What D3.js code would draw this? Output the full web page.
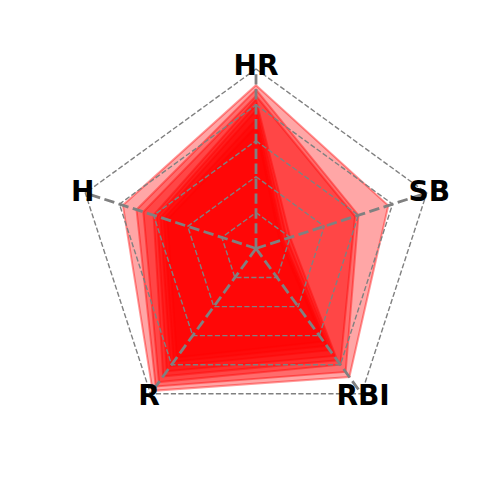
<!DOCTYPE html>
<html><head><meta charset="utf-8">
<script src="https://cdn.jsdelivr.net/npm/d3@7"></script>
<style>body{margin:0;background:#fff} svg{display:block}</style>
</head><body>
<svg id="chart" width="500" height="500"></svg>
<script>
// categories (clockwise from top)
const categories = ["HR", "SB", "RBI", "R", "H"];
// radial grid levels
const gridLevels = [0.2, 0.4, 0.6, 0.8, 1.0];
// series values (normalised, same order as categories)
const series1 = [0.91, 0.775, 0.885, 0.98, 0.78];
const series2 = [0.885, 0.60, 0.85, 0.95, 0.70];
const series3 = [0.85, 0.58, 0.80, 0.92, 0.66];
const series4 = [0.83, 0.20, 0.77, 0.88, 0.60];
const series5 = [0.80, 0.18, 0.74, 0.845, 0.58];
const series6 = [0.77, 0.16, 0.70, 0.81, 0.56];
const series7 = [0.72, 0.15, 0.67, 0.78, 0.54];
const series8 = [0.68, 0.14, 0.64, 0.75, 0.52];
const allSeries = [series1, series2, series3, series4, series5, series6, series7, series8];

const cx = 256, cy = 248.5, R = 179.5;
const svg = d3.select("#chart");
const g = svg.append("g").attr("transform", `translate(${cx},${cy})`);

const r = d3.scaleLinear().domain([0, 1]).range([0, R]);
const angle = d3.scaleLinear().domain([0, categories.length]).range([0, 2 * Math.PI]);

const radial = d3.lineRadial()
  .angle((d, i) => angle(i))
  .radius(d => r(d))
  .curve(d3.curveLinearClosed);

// filled series
g.append("g").selectAll("path").data(allSeries).join("path")
  .attr("d", d => radial(d))
  .attr("fill", "red").attr("fill-opacity", 0.35)
  .attr("stroke", "red").attr("stroke-opacity", 0.4).attr("stroke-width", 2)
  .attr("stroke-linejoin", "miter");

// ring grid
g.append("g").selectAll("path").data(gridLevels).join("path")
  .attr("d", lv => radial(categories.map(() => lv)))
  .attr("fill", "none").attr("stroke", "#808080")
  .attr("stroke-width", 1.4).attr("stroke-dasharray", "5.2,2.3");

// spokes
const spoke = d3.lineRadial().angle(d => d[0]).radius(d => r(d[1]));
g.append("g").selectAll("path").data(categories).join("path")
  .attr("d", (c, i) => spoke([[angle(i), 0], [angle(i), 1]]))
  .attr("fill", "none").attr("stroke", "#808080")
  .attr("stroke-width", 2.8).attr("stroke-dasharray", "10.4,4.5");

// labels
g.append("g").selectAll("text").data(categories).join("text")
  .attr("x", (c, i) => d3.pointRadial(angle(i), r(1.015))[0])
  .attr("y", (c, i) => d3.pointRadial(angle(i), r(1.015))[1] - 0.5)
  .attr("text-anchor", "middle")
  .attr("dominant-baseline", "central")
  .attr("font-family", "DejaVu Sans")
  .attr("font-weight", "bold")
  .attr("font-size", 28)
  .attr("fill", "#000")
  .text(c => c);
</script>
</body></html>
